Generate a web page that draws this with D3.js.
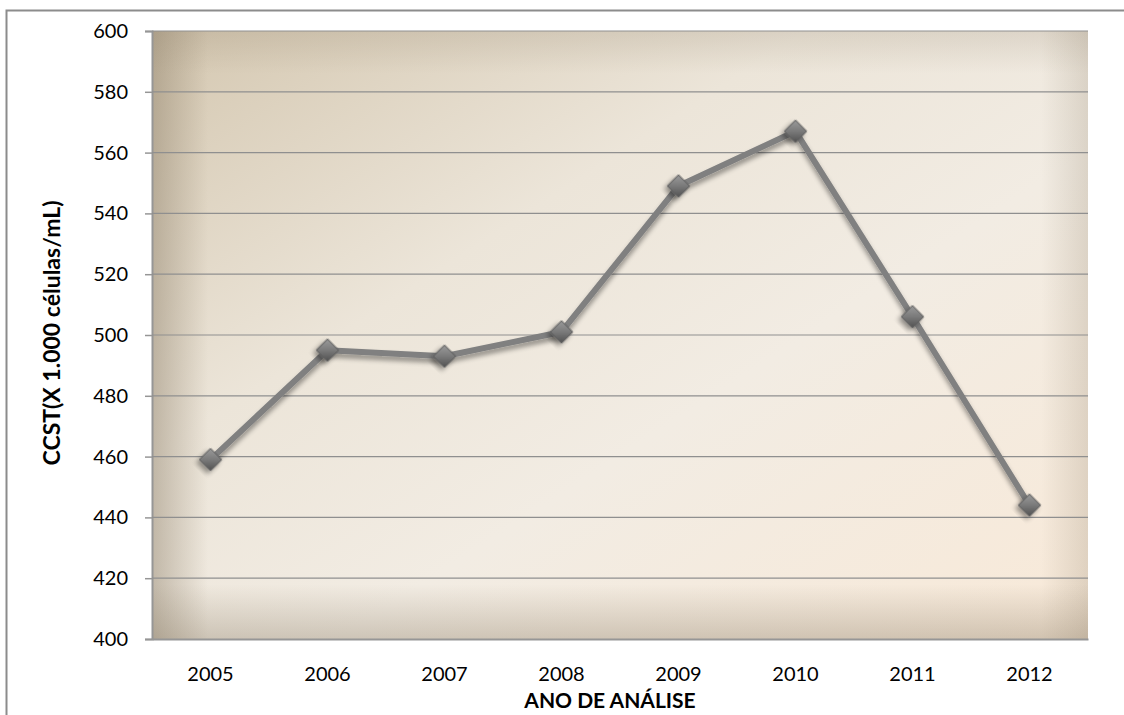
<!DOCTYPE html>
<html>
<head>
<meta charset="utf-8">
<script src="https://cdn.jsdelivr.net/npm/d3@7/dist/d3.min.js"></script>
<style>
  html, body { margin: 0; padding: 0; background: #fff; }
  svg { display: block; }
  text { font-family: Lato, "Open Sans", sans-serif; fill: #000; }
</style>
</head>
<body>
<svg id="chart" width="1124" height="715"></svg>
<script>
// CCST por ano de análise
const years = ["2005", "2006", "2007", "2008", "2009", "2010", "2011", "2012"];
const ccst = [459, 495, 493, 501, 549, 567, 506, 444];
const yTicks = [400, 420, 440, 460, 480, 500, 520, 540, 560, 580, 600];
const yTitle = "CCST(X 1.000 células/mL)";
const xTitle = "ANO DE ANÁLISE";

const W = 1124, H = 715;
const plot = { left: 152, top: 31, right: 1088, bottom: 639 };

const svg = d3.select("#chart");
const defs = svg.append("defs");

// background fill of the plot area
const bg = defs.append("linearGradient").attr("id", "bgGrad")
  .attr("x1", "0").attr("y1", "0").attr("x2", "1").attr("y2", "1");
bg.append("stop").attr("offset", "0").attr("stop-color", "#d4c7b0");
bg.append("stop").attr("offset", "0.35").attr("stop-color", "#ece5d9");
bg.append("stop").attr("offset", "0.6").attr("stop-color", "#f2ece3");
bg.append("stop").attr("offset", "1").attr("stop-color", "#f8e9d8");

// inner edge shading
function edgeGrad(id, x1, y1, x2, y2, color, op, stop) {
  const g = defs.append("linearGradient").attr("id", id)
    .attr("x1", x1).attr("y1", y1).attr("x2", x2).attr("y2", y2);
  g.append("stop").attr("offset", "0").attr("stop-color", color).attr("stop-opacity", op);
  g.append("stop").attr("offset", stop).attr("stop-color", color).attr("stop-opacity", 0);
}
edgeGrad("edgeL", "0", "0", "1", "0", "#8a7c66", 0.45, "0.06");
edgeGrad("edgeR", "1", "0", "0", "0", "#8a7c66", 0.22, "0.05");
edgeGrad("edgeT", "0", "0", "0", "1", "#8a7c66", 0.18, "0.07");
edgeGrad("edgeB", "0", "1", "0", "0", "#8a7c66", 0.35, "0.09");

// marker fill
const mk = defs.append("linearGradient").attr("id", "mkGrad")
  .attr("x1", "0").attr("y1", "0").attr("x2", "1").attr("y2", "1");
mk.append("stop").attr("offset", "0").attr("stop-color", "#9a9a9a");
mk.append("stop").attr("offset", "0.5").attr("stop-color", "#7a7a7a");
mk.append("stop").attr("offset", "1").attr("stop-color", "#505050");

const shadow = defs.append("filter").attr("id", "shadow")
  .attr("x", "-50%").attr("y", "-50%").attr("width", "200%").attr("height", "200%");
shadow.append("feGaussianBlur").attr("in", "SourceAlpha").attr("stdDeviation", 2.5);
shadow.append("feOffset").attr("dx", 0).attr("dy", 4).attr("result", "off");
shadow.append("feComponentTransfer").append("feFuncA").attr("type", "linear").attr("slope", 0.4);
const merge = shadow.append("feMerge");
merge.append("feMergeNode");
merge.append("feMergeNode").attr("in", "SourceGraphic");

// outer chart border
svg.append("rect").attr("x", 6.5).attr("y", 10.5).attr("width", W + 10).attr("height", H + 10)
  .attr("fill", "#fff").attr("stroke", "#8c8c8c").attr("stroke-width", 2);

const x = d3.scaleBand().domain(years).range([plot.left, plot.right]);
const y = d3.scaleLinear().domain([400, 600]).range([plot.bottom, plot.top]);

const pw = plot.right - plot.left, ph = plot.bottom - plot.top;
svg.append("rect").attr("x", plot.left).attr("y", plot.top).attr("width", pw).attr("height", ph)
  .attr("fill", "url(#bgGrad)");
["edgeL", "edgeR", "edgeT", "edgeB"].forEach(id => {
  svg.append("rect").attr("x", plot.left).attr("y", plot.top).attr("width", pw).attr("height", ph)
    .attr("fill", `url(#${id})`);
});

// gridlines + y axis
const yAxis = d3.axisLeft(y).tickValues(yTicks).tickSize(7).tickPadding(17).tickFormat(d3.format("d"));
const gy = svg.append("g").attr("transform", `translate(${plot.left},0)`).call(yAxis);
gy.select(".domain").attr("stroke", "#969696").attr("stroke-width", 2);
gy.selectAll(".tick line").attr("stroke", "#969696").attr("stroke-width", 1.5);
gy.selectAll(".tick text").attr("font-size", 20).attr("fill", "#000");

svg.append("g").selectAll("line").data(yTicks.filter(t => t > 400)).join("line")
  .attr("x1", plot.left).attr("x2", plot.right)
  .attr("y1", d => y(d)).attr("y2", d => y(d))
  .attr("stroke", "#8f8f8f").attr("stroke-width", 1.2);

// x axis
const xAxis = d3.axisBottom(x).tickSize(0).tickPadding(28);
const gx = svg.append("g").attr("transform", `translate(0,${plot.bottom})`).call(xAxis);
gx.select(".domain").attr("stroke", "#969696").attr("stroke-width", 2);
gx.selectAll(".tick text").attr("font-size", 20).attr("fill", "#000");

// series line
const cx = d => x(d) + x.bandwidth() / 2;
const line = d3.line().x((d, i) => cx(years[i])).y(d => y(d));
svg.append("path").datum(ccst).attr("d", line)
  .attr("fill", "none").attr("stroke", "#808080").attr("stroke-width", 6)
  .attr("stroke-linejoin", "round").attr("filter", "url(#shadow)");

// diamond markers
const sym = d3.symbol().type(d3.symbolSquare).size(250);
svg.append("g").selectAll("path").data(ccst).join("path")
  .attr("d", sym)
  .attr("transform", (d, i) => `translate(${cx(years[i])},${y(d)}) rotate(45)`)
  .attr("fill", "url(#mkGrad)").attr("stroke", "#5e5e5e").attr("stroke-width", 1)
  .attr("filter", "url(#shadow)");

// axis titles
svg.append("text").attr("transform", `translate(60,333) rotate(-90)`)
  .attr("text-anchor", "middle").attr("font-size", 23).attr("font-weight", "bold")
  .text(yTitle);
svg.append("text").attr("x", 610).attr("y", 708)
  .attr("text-anchor", "middle").attr("font-size", 21).attr("font-weight", "bold")
  .text(xTitle);
</script>
</body>
</html>
